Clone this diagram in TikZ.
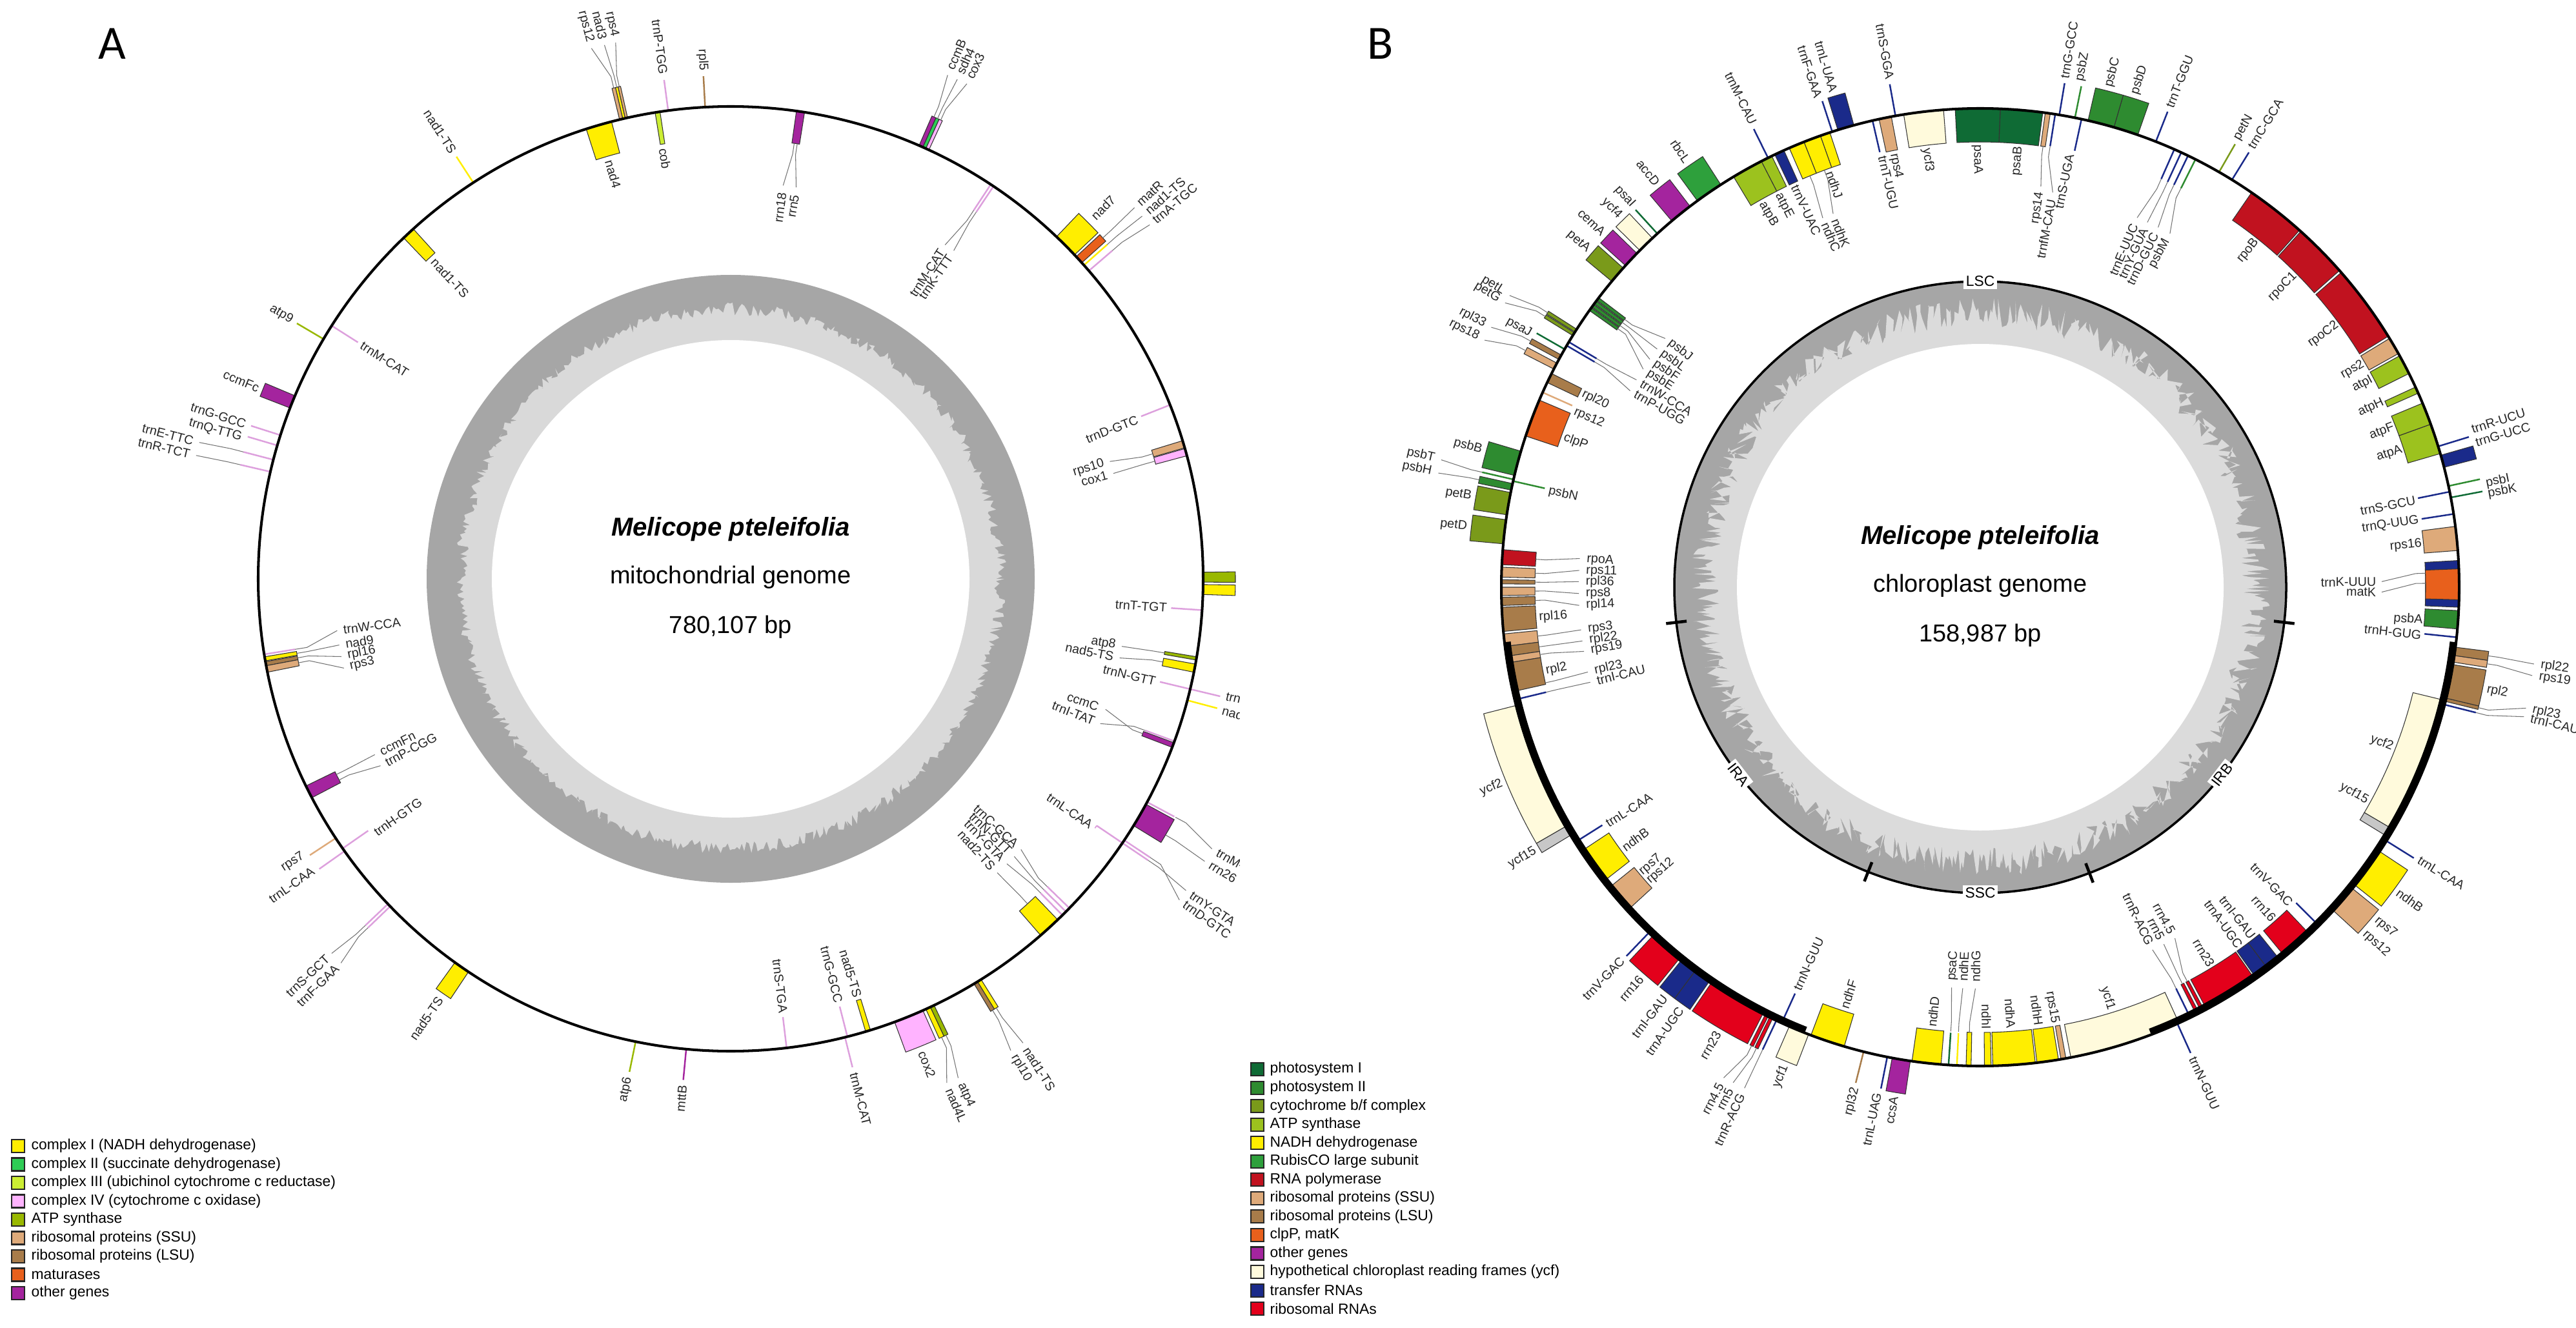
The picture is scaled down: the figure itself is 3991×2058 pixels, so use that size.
\documentclass[tikz,border=0pt]{standalone}
\usepackage{fontspec}
\setmainfont{Liberation Sans}
\newfontfamily\carl{Carlito}
\definecolor{kc1}{HTML}{FFEE00}
\definecolor{kc2}{HTML}{2ECC55}
\definecolor{kc3}{HTML}{CCEE33}
\definecolor{kc4}{HTML}{FFB3FF}
\definecolor{kmatp}{HTML}{99B800}
\definecolor{kssu}{HTML}{DEAA7A}
\definecolor{klsu}{HTML}{A87C4A}
\definecolor{kmat}{HTML}{E8601C}
\definecolor{koth}{HTML}{A4249E}
\definecolor{kmtrn}{HTML}{DDA0DD}
\definecolor{kpsI}{HTML}{0F6B35}
\definecolor{kpsII}{HTML}{2E8B30}
\definecolor{kcytb}{HTML}{7A9A1A}
\definecolor{katp}{HTML}{9CC21E}
\definecolor{kndh}{HTML}{FFEE00}
\definecolor{krbc}{HTML}{2EA03C}
\definecolor{krpo}{HTML}{C1121F}
\definecolor{kclp}{HTML}{E8601C}
\definecolor{kycf}{HTML}{FFFADC}
\definecolor{ktrna}{HTML}{1A2A8A}
\definecolor{krrna}{HTML}{E3001B}
\definecolor{ringdark}{HTML}{A6A6A6}
\definecolor{ringlight}{HTML}{D9D9D9}
\def\gR{732}\def\gH{50}
\newcount\glc
\newcommand{\gbox}[4]{%
  \filldraw[fill=#4, draw=black!80, line width=0.3pt]
    (#1:\gR) arc[start angle=#1, end angle=#2, radius=\gR]
    -- (#2:{\gR+(#3)*\gH}) arc[start angle=#2, end angle=#1, radius={\gR+(#3)*\gH}] -- cycle;}
\newcommand{\gline}[4]{\draw[#3, line width=0.7pt] (#1:\gR) -- (#1:{\gR+(#2)*(#4)});}
\newcommand{\glead}[5]{\draw[ldr] (#1:#3) -- (#1:#4) -- (#2:#5);}
\newcommand{\glab}[3]{%
  \pgfmathsetmacro\tha{mod(#1+720,360)}%
  \pgfmathtruncatemacro\isl{(\tha>90)&&(\tha<270)}%
  \pgfmathtruncatemacro\iso{(#2)>\gR}%
  \ifnum\isl=1
    \pgfmathsetmacro\rot{\tha-180}%
    \ifnum\iso=1 \def\anc{east}\else\def\anc{west}\fi
  \else
    \pgfmathsetmacro\rot{\tha}%
    \ifnum\iso=1 \def\anc{west}\else\def\anc{east}\fi
  \fi
  \global\advance\glc by 1
  \node[glab, rotate=\rot, anchor=\anc] (gl\the\glc) at (#1:#2) {#3};}
\begin{document}
\begin{tikzpicture}[x=0.01cm, y=-0.01cm,
  glab/.style={font=\fontsize{5.6}{6.4}\selectfont, text=black!85, inner sep=0.6pt},
  ldr/.style={draw=black!55, line width=0.3pt},
  lgbox/.style={draw=black!85, line width=0.6pt, minimum width=0.2cm, minimum height=0.2cm, inner sep=0pt},
  lgtext/.style={font=\fontsize{6.5}{7.5}\selectfont, anchor=west, inner sep=0pt},
  title/.style={font=\bfseries\itshape\fontsize{11.4}{13}\selectfont},
  sub/.style={font=\fontsize{10.8}{12}\selectfont},
  reg/.style={fill=white, inner sep=1pt, font=\fontsize{6.5}{7}\selectfont}]
\useasboundingbox (0,0) rectangle (3991,2058);
\pgfmathsetseed{7}
\node[font=\carl\fontsize{21}{21}\selectfont] (labA) at (174,68) {A};
\node[font=\carl\fontsize{21}{21}\selectfont] (labB) at (2139,68) {B};

% ================= PANEL A =================
\begin{scope}
\clip (0,0) rectangle (1920,2058);
\begin{scope}[shift={(1132,897)}, y=0.01cm]
\def\gR{732}\def\gH{50}
\fill[ringdark] (0,0) circle[radius=471];
\fill[ringlight] plot[samples=720, domain=0:360, variable=\t] (\t:{408+20*rnd}) -- cycle;
\fill[white] (0,0) circle[radius=370];
% outside genes
\gbox{102.6}{102.9}{1}{kssu}\gbox{102.9}{103.2}{1}{kc1}\gbox{103.2}{103.6}{1}{kssu}
\glead{102.75}{102.1}{782}{800}{850}\glab{102.1}{857}{rps4}
\glead{103.05}{103.3}{782}{800}{850}\glab{103.3}{857}{nad3}
\glead{103.4}{104.7}{782}{800}{850}\glab{104.7}{857}{rps12}
\gline{123.0}{1}{kc1}{48}\glab{123.0}{786}{nad1-TS}
\gline{149.5}{1}{kmatp}{48}\glab{149.5}{786}{atp9}
\gbox{157.2}{158.8}{1}{koth}\glab{158.0}{786}{ccmFc}
\gline{162.3}{1}{kmtrn}{48}\glab{162.3}{786}{trnG-GCC}
\gline{163.6}{1}{kmtrn}{48}\glab{163.9}{786}{trnQ-TTG}
\gline{165.4}{1}{kmtrn}{48}\glead{165.4}{165.6}{780}{800}{850}\glab{165.6}{857}{trnE-TTC}
\gline{166.9}{1}{kmtrn}{48}\glead{166.9}{167.0}{780}{800}{850}\glab{167.0}{857}{trnR-TCT}
\gline{213.3}{1}{kssu}{48}\glab{212.9}{786}{rps7}
\gline{215.2}{1}{kmtrn}{48}\glab{214.9}{786}{trnL-CAA}
\gline{223.5}{1}{kmtrn}{48}\gline{223.9}{1}{kmtrn}{48}
\glead{223.5}{223.2}{780}{800}{848}\glab{223.2}{854}{trnS-GCT}
\glead{223.9}{224.6}{780}{800}{848}\glab{224.6}{854}{trnF-GAA}
\gbox{234.3}{236.3}{1}{kc1}\glab{235.3}{788}{nad5-TS}
\gline{258.4}{1}{kmatp}{48}\glab{258.4}{786}{atp6}
\gline{264.6}{1}{koth}{48}\glab{264.6}{786}{mttB}
\gline{284.0}{1}{kmtrn}{48}\glab{284.0}{786}{trnM-CAT}
\gbox{290.3}{294.0}{1}{kc4}\glab{292.0}{788}{cox2}
\gbox{294.4}{295.0}{1}{kc1}\gbox{295.0}{295.5}{1}{kmatp}
\glead{294.7}{293.2}{782}{800}{850}\glab{293.2}{857}{nad4L}
\glead{295.25}{294.5}{782}{800}{850}\glab{294.5}{857}{atp4}
\gbox{301.0}{301.5}{1}{klsu}\gbox{301.5}{302.0}{1}{kc1}
\glead{301.25}{300.7}{782}{800}{850}\glab{300.7}{857}{rpl10}
\glead{301.75}{302.2}{782}{800}{850}\glab{302.2}{857}{nad1-TS}
\gline{326.0}{1}{kmtrn}{48}\gline{326.4}{1}{kmtrn}{48}
\glead{326.0}{325.6}{780}{800}{855}\glab{325.6}{862}{trnY-GTA}
\glead{326.4}{324.4}{780}{800}{855}\glab{324.4}{862}{trnD-GTC}
\gbox{328.5}{331.5}{1}{koth}\gline{331.8}{1}{kmtrn}{48}
\glead{331.8}{330.7}{782}{800}{855}\glab{330.7}{862}{trnM-CAT}
\glead{329.5}{329.2}{782}{800}{855}\glab{329.2}{862}{rrn26}
\gline{346.5}{1}{kmtrn}{48}\glab{346.7}{786}{trnI-CAT}
\gline{345.1}{1}{kc1}{48}\glab{345.0}{786}{nad1-TS}
\gbox{359.6}{360.8}{1}{kmatp}\glab{0.2}{786}{atp1}
\gbox{358.1}{359.3}{1}{kc1}\glab{358.7}{786}{nad6}
\gbox{43.3}{46.4}{1}{kc1}\glab{44.9}{790}{nad7}
\gbox{42.0}{43.0}{1}{kmat}
\gline{41.6}{1}{kc1}{48}\gline{40.7}{1}{kmtrn}{48}
\glead{42.5}{42.6}{782}{800}{850}\glab{42.6}{856}{matR}
\glead{41.6}{41.4}{780}{800}{850}\glab{41.4}{857}{nad1-TS}
\glead{40.7}{40.2}{780}{800}{850}\glab{40.2}{856}{trnA-TGC}
\gbox{66.0}{66.5}{1}{koth}\gbox{65.6}{66.0}{1}{kc2}\gbox{65.2}{65.6}{1}{kc4}
\glead{66.25}{66.7}{782}{800}{850}\glab{66.7}{857}{ccmB}
\glead{65.8}{65.6}{782}{800}{850}\glab{65.6}{857}{sdh4}
\glead{65.4}{64.5}{782}{800}{850}\glab{64.5}{857}{cox3}
\gline{93.1}{1}{klsu}{48}\glab{93.1}{786}{rpl5}
\gline{97.6}{1}{kmtrn}{48}\glab{97.6}{786}{trnP-TGG}
% inside genes
\gbox{104.6}{107.8}{-1}{kc1}\glab{106.2}{678}{nad4}
\gbox{98.6}{99.2}{-1}{kc3}\glab{98.9}{678}{cob}
\gbox{132.2}{133.8}{-1}{kc1}\glab{133.0}{678}{nad1-TS}
\gline{147.6}{-1}{kmtrn}{48}\glab{147.6}{680}{trnM-CAT}
\gline{189.2}{-1}{kmtrn}{48}\gbox{189.5}{190.0}{-1}{kc1}\gbox{190.1}{190.6}{-1}{klsu}\gbox{190.6}{191.4}{-1}{kssu}
\glead{189.2}{187.5}{684}{665}{615}\glab{187.5}{608}{trnW-CCA}
\glead{189.75}{189.6}{682}{665}{615}\glab{189.6}{608}{nad9}
\glead{190.35}{191.3}{682}{665}{615}\glab{191.3}{608}{rpl16}
\glead{191.0}{193.0}{682}{665}{615}\glab{193.0}{608}{rps3}
\gbox{206.0}{207.6}{-1}{koth}
\glead{206.4}{206.3}{682}{665}{615}\glab{206.3}{608}{ccmFn}
\glead{207.2}{208.1}{682}{665}{615}\glab{208.1}{608}{trnP-CGG}
\gline{214.8}{-1}{kmtrn}{48}\glab{215.6}{680}{trnH-GTG}
\gline{276.8}{-1}{kmtrn}{48}\glab{276.9}{680}{trnS-TGA}
\gline{284.3}{-1}{kmtrn}{48}\glab{284.3}{680}{trnG-GCC}
\gbox{286.6}{287.2}{-1}{kc1}\glab{286.9}{680}{nad5-TS}
\gbox{311.0}{313.8}{-1}{kc1}\gline{314.6}{-1}{kmtrn}{48}\gline{315.2}{-1}{kmtrn}{48}\gline{315.8}{-1}{kmtrn}{48}
\glead{312.4}{312.2}{682}{665}{615}\glab{312.2}{608}{nad2-TS}
\glead{314.6}{314.1}{684}{665}{615}\glab{314.1}{608}{trnY-GTA}
\glead{315.2}{315.6}{684}{665}{615}\glab{315.6}{608}{trnN-GTT}
\glead{315.8}{317.0}{684}{665}{615}\glab{317.0}{608}{trnC-GCA}
\draw[kmtrn, line width=0.7pt] (326.0:732) -- (326.0:684);\draw[kmtrn, line width=0.5pt] (326.0:684) -- (325.6:684);
\glab{325.6}{680}{trnL-CAA}
\gbox{339.1}{339.7}{-1}{koth}\gline{339.9}{-1}{kmtrn}{48}
\glead{339.4}{340.8}{682}{665}{615}\glab{340.8}{606}{ccmC}
\glead{339.9}{338.6}{684}{665}{615}\glab{338.6}{608}{trnI-TAT}
\gline{346.5}{-1}{kmtrn}{48}\glab{346.4}{680}{trnN-GTT}
\gbox{350.1}{350.5}{-1}{kmatp}\gbox{348.6}{349.6}{-1}{kc1}
\glead{350.3}{350.2}{682}{665}{615}\glab{350.2}{608}{atp8}
\glead{349.1}{348.5}{682}{665}{615}\glab{348.5}{608}{nad5-TS}
\gline{356.2}{-1}{kmtrn}{48}\glab{356.2}{680}{trnT-TGT}
\gbox{16.1}{17.0}{-1}{kssu}\gbox{15.1}{16.0}{-1}{kc4}
\glead{16.5}{17.2}{682}{665}{615}\glab{17.2}{608}{rps10}
\glead{15.5}{15.4}{682}{665}{615}\glab{15.4}{608}{cox1}
\gline{21.6}{-1}{kmtrn}{48}\glab{21.4}{680}{trnD-GTC}
\gline{56.2}{-1}{kmtrn}{48}\gline{56.6}{-1}{kmtrn}{48}
\glead{56.6}{57.3}{684}{665}{615}\glab{57.3}{608}{trnM-CAT}
\glead{56.2}{55.8}{684}{665}{615}\glab{55.8}{608}{trnK-TTT}
\gbox{81.0}{82.0}{-1}{koth}
\glead{81.7}{82.4}{682}{665}{615}\glab{82.4}{606}{rrn18}
\glead{81.3}{80.5}{682}{665}{615}\glab{80.5}{606}{rrn5}
\draw[line width=1.15pt] (0,0) circle[radius=732];
\end{scope}
\end{scope}
\node[title] (tA1) at (1132,820) {Melicope pteleifolia};
\node[sub] (tA2) at (1132,895) {mitochondrial genome};
\node[sub] (tA3) at (1132,972) {780,107 bp};

% ================= PANEL B =================
\begin{scope}[shift={(3068,910)}, y=0.01cm]
\def\gR{742}\def\gH{52}
\fill[ringdark] (0,0) circle[radius=474];
\fill[ringlight!95!white] plot[samples=1000, domain=0:360, variable=\t] (\t:{404+46*rnd}) -- cycle;
\fill[white] (0,0) circle[radius=377];
\draw[line width=1pt] (0,0) circle[radius=474];
\foreach \a in {186.6,248.5,290.9,353.4} \draw[line width=1.3pt] (\a:458) -- (\a:490);
\node[reg] (rLSC) at (90:474) {LSC};
\node[reg] (rSSC) at (270:474) {SSC};
\node[reg, rotate=-52.2] (rIRA) at (217.8:474) {IRA};
\node[reg, rotate=52.2] (rIRB) at (322.2:474) {IRB};
% outside genes
\gline{100.2}{1}{ktrna}{50}\glab{100.1}{797}{trnS-GGA}
\gbox{105.3}{107.3}{1}{ktrna}\glab{106.5}{798}{trnL-UAA}
\gline{108.0}{1}{ktrna}{50}\glab{108.3}{797}{trnF-GAA}
\gline{116.3}{1}{ktrna}{50}\glab{116.1}{797}{trnM-CAU}
\gbox{122.8}{126.2}{1}{krbc}\glab{124.5}{798}{rbcL}
\gbox{127.3}{130.1}{1}{koth}\glab{128.7}{798}{accD}
\gline{132.4}{1}{kpsI}{50}\glab{132.3}{797}{psaI}
\gbox{133.2}{135.3}{1}{kycf}\glab{134.2}{798}{ycf4}
\gbox{135.8}{137.8}{1}{koth}\glab{136.8}{798}{cemA}
\gbox{138.2}{140.3}{1}{kcytb}\glab{139.3}{798}{petA}
\gbox{147.4}{147.8}{1}{kcytb}\gbox{147.9}{148.3}{1}{kcytb}
\glead{147.6}{148.2}{794}{810}{858}\glab{148.2}{866}{petL}
\glead{148.1}{149.1}{794}{810}{858}\glab{149.1}{866}{petG}
\gline{150.2}{1}{kpsI}{50}\glab{150.6}{797}{psaJ}
\gbox{151.0}{151.6}{1}{klsu}\gbox{152.1}{152.9}{1}{kssu}
\glead{151.3}{152.0}{794}{810}{858}\glab{152.0}{866}{rpl33}
\glead{152.5}{153.5}{794}{810}{858}\glab{153.5}{866}{rps18}
\gbox{163.5}{166.5}{1}{kpsII}\glab{164.6}{798}{psbB}
\gline{167.0}{1}{kpsII}{50}\gbox{167.5}{168.3}{1}{kpsII}
\glead{167.0}{166.7}{792}{810}{858}\glab{166.7}{866}{psbT}
\glead{167.9}{168.1}{794}{810}{858}\glab{168.1}{866}{psbH}
\gbox{168.6}{171.3}{1}{kcytb}\glab{169.9}{798}{petB}
\gbox{171.9}{174.8}{1}{kcytb}\glab{173.3}{798}{petD}
\gbox{194.3}{210.0}{1}{kycf}\glab{202.3}{798}{ycf2}
\gbox{210.0}{211.2}{1}{black!22}\glab{210.6}{798}{ycf15}
\gline{226.2}{1}{ktrna}{50}\glab{226.1}{797}{trnV-GAC}
\gbox{226.8}{231.0}{1}{krrna}\glab{229.0}{798}{rrn16}
\gbox{231.3}{233.4}{1}{ktrna}\gbox{233.4}{235.5}{1}{ktrna}
\glab{232.4}{798}{trnI-GAU}\glab{234.6}{798}{trnA-UGC}
\gbox{235.8}{243.0}{1}{krrna}\glab{239.5}{798}{rrn23}
\gbox{243.3}{243.7}{1}{krrna}\gbox{243.9}{244.3}{1}{krrna}\gline{244.8}{1}{ktrna}{50}
\glead{243.5}{242.4}{794}{810}{858}\glab{242.4}{866}{rrn4.5}
\glead{244.1}{243.5}{794}{810}{858}\glab{243.5}{866}{rrn5}
\glead{244.8}{244.8}{792}{810}{858}\glab{244.8}{866}{trnR-ACG}
\gbox{246.5}{249.0}{1}{kycf}\glab{247.8}{798}{ycf1}
\gline{255.9}{1}{klsu}{50}\glab{256.0}{797}{rpl32}
\gline{258.8}{1}{ktrna}{50}\glab{258.5}{797}{trnL-UAG}
\gbox{259.4}{261.6}{1}{koth}\glab{260.4}{798}{ccsA}
\gline{294.3}{1}{ktrna}{50}\glab{294.3}{797}{trnN-GUU}
\gbox{317.5}{321.0}{1}{kssu}\glab{320.0}{798}{rps7}\glab{318.0}{798}{rps12}
\gbox{321.5}{326.5}{1}{kndh}\glab{323.9}{798}{ndhB}
\gline{328.0}{1}{ktrna}{50}\glab{328.2}{797}{trnL-CAA}
\gline{345.8}{1}{ktrna}{50}\gbox{346.2}{346.6}{1}{klsu}\gbox{346.6}{350.7}{1}{klsu}\glab{348.6}{798}{rpl2}
\glead{346.4}{347.5}{794}{810}{866}\glab{347.5}{874}{rpl23}
\glead{345.8}{346.6}{792}{810}{866}\glab{346.6}{874}{trnI-CAU}
\gbox{351.0}{351.8}{1}{kssu}\gbox{351.8}{352.8}{1}{klsu}
\glead{351.4}{350.9}{794}{810}{866}\glab{350.9}{874}{rps19}
\glead{352.3}{352.1}{794}{810}{866}\glab{352.1}{874}{rpl22}
\gline{12.2}{1}{kpsII}{50}\gline{10.8}{1}{kpsI}{50}
\glab{11.6}{797}{psbI}\glab{10.4}{797}{psbK}
\gbox{14.5}{16.0}{1}{ktrna}\glab{16.3}{797}{trnG-UCC}
\gline{17.1}{1}{ktrna}{50}\glab{17.8}{797}{trnR-UCU}
\gline{58.3}{1}{ktrna}{50}\glab{58.4}{797}{trnC-GCA}
\gline{60.1}{1}{kcytb}{50}\glab{60.2}{797}{petN}
\gline{68.5}{1}{ktrna}{50}\glab{68.5}{797}{trnT-GGU}
\gbox{70.8}{73.8}{1}{kpsII}\gbox{73.8}{77.0}{1}{kpsII}\glab{72.6}{798}{psbD}\glab{75.6}{798}{psbC}
\gline{78.6}{1}{kpsII}{50}\glab{78.9}{797}{psbZ}
\gline{80.5}{1}{ktrna}{50}\glab{80.6}{797}{trnG-GCC}
% inside genes
\gbox{94.4}{99.2}{-1}{kycf}\glab{97.0}{688}{ycf3}
\gbox{100.7}{102.2}{-1}{kssu}\glab{101.3}{688}{rps4}
\gline{103.0}{-1}{ktrna}{50}\glab{102.8}{688}{trnT-UGU}
\gbox{108.3}{109.5}{-1}{kndh}\gbox{109.5}{111.6}{-1}{kndh}\gbox{111.6}{113.5}{-1}{kndh}
\glab{109.9}{688}{ndhJ}
\glead{110.5}{111.5}{690}{675}{622}\glab{111.5}{616}{ndhK}
\glead{112.5}{113.1}{690}{675}{622}\glab{113.1}{616}{ndhC}
\gbox{114.2}{115.4}{-1}{ktrna}\glab{114.8}{688}{trnV-UAC}
\gbox{115.8}{117.2}{-1}{katp}\gbox{117.2}{121.0}{-1}{katp}
\glab{117.2}{688}{atpE}\glab{119.6}{688}{atpB}
\gbox{142.8}{143.2}{-1}{kpsII}\gbox{143.3}{143.7}{-1}{kpsII}\gbox{143.8}{144.2}{-1}{kpsII}\gbox{144.3}{144.7}{-1}{kpsII}
\glead{143.0}{141.7}{690}{675}{622}\glab{141.7}{616}{psbJ}
\glead{143.5}{143.6}{690}{675}{622}\glab{143.6}{616}{psbL}
\glead{144.0}{145.4}{690}{675}{622}\glab{145.4}{616}{psbF}
\glead{144.5}{147.1}{690}{675}{622}\glab{147.1}{616}{psbE}
\gline{149.2}{-1}{ktrna}{50}\gline{149.7}{-1}{ktrna}{50}
\glead{149.2}{148.9}{692}{675}{622}\glab{148.9}{616}{trnW-CCA}
\glead{149.7}{150.7}{692}{675}{622}\glab{150.7}{616}{trnP-UGG}
\gbox{153.5}{154.7}{-1}{klsu}\glab{154.0}{688}{rpl20}
\gline{156.0}{-1}{kssu}{50}\glab{156.6}{688}{rps12}
\gbox{157.0}{161.6}{-1}{kclp}\glab{160.2}{688}{clpP}
\gline{167.2}{-1}{kpsII}{50}\glab{167.4}{688}{psbN}
\gbox{175.5}{177.3}{-1}{krpo}
\gbox{177.6}{178.8}{-1}{kssu}
\gbox{179.1}{179.6}{-1}{klsu}
\gbox{180.0}{181.0}{-1}{kssu}
\gbox{181.2}{182.2}{-1}{klsu}
\gbox{182.4}{185.3}{-1}{klsu}
\gbox{185.6}{187.1}{-1}{kssu}
\gbox{187.1}{188.3}{-1}{klsu}
\gbox{188.3}{189.1}{-1}{kssu}
\gbox{189.1}{192.6}{-1}{klsu}
\gline{193.6}{-1}{ktrna}{50}
\glead{176.4}{175.9}{690}{675}{622}\glab{175.9}{614}{rpoA}
\glead{178.2}{177.6}{690}{675}{622}\glab{177.6}{614}{rps11}
\glead{179.35}{179.2}{690}{675}{622}\glab{179.2}{614}{rpl36}
\glead{180.5}{180.9}{690}{675}{622}\glab{180.9}{614}{rps8}
\glead{181.7}{182.6}{690}{675}{622}\glab{182.6}{614}{rpl14}
\glab{183.9}{688}{rpl16}
\glead{186.3}{186.1}{690}{675}{622}\glab{186.1}{614}{rps3}
\glead{187.7}{187.7}{690}{675}{622}\glab{187.7}{614}{rpl22}
\glead{188.7}{189.2}{690}{675}{622}\glab{189.2}{614}{rps19}
\glab{190.9}{688}{rpl2}
\glead{192.4}{192.2}{690}{675}{622}\glab{192.2}{614}{rpl23}
\glead{193.6}{193.7}{692}{675}{622}\glab{193.7}{614}{trnI-CAU}
\gline{212.2}{-1}{ktrna}{50}\glab{212.4}{688}{trnL-CAA}
\gbox{213.5}{218.0}{-1}{kndh}\glab{216.2}{688}{ndhB}
\gbox{219.0}{222.5}{-1}{kssu}\glab{220.1}{690}{rps7}\glab{221.6}{690}{rps12}
\gline{245.5}{-1}{ktrna}{50}\glab{245.5}{688}{trnN-GUU}
\gbox{249.3}{253.5}{-1}{kndh}\glab{252.1}{688}{ndhF}
\gbox{261.8}{265.3}{-1}{kndh}\glab{263.7}{688}{ndhD}
\gline{266.2}{-1}{kpsI}{50}\gline{267.2}{-1}{kndh}{50}\gbox{268.3}{268.9}{-1}{kndh}
\glead{266.2}{265.9}{690}{675}{622}\glab{265.9}{614}{psaC}
\glead{267.2}{267.5}{690}{675}{622}\glab{267.5}{614}{ndhE}
\glead{268.6}{269.3}{690}{675}{622}\glab{269.3}{614}{ndhG}
\gbox{270.5}{271.3}{-1}{kndh}\glab{270.8}{688}{ndhI}
\gbox{271.5}{276.6}{-1}{kndh}\glab{274.0}{688}{ndhA}
\gbox{276.8}{279.4}{-1}{kndh}\glab{277.6}{688}{ndhH}
\gbox{279.7}{280.3}{-1}{kssu}\glab{279.7}{688}{rps15}
\gbox{280.9}{294.5}{-1}{kycf}\glab{287.2}{688}{ycf1}
\gline{296.0}{-1}{ktrna}{50}\gbox{296.8}{297.2}{-1}{krrna}\gbox{297.5}{297.9}{-1}{krrna}
\glead{296.0}{295.4}{692}{675}{622}\glab{295.4}{616}{trnR-ACG}
\glead{297.0}{297.2}{690}{675}{622}\glab{297.2}{616}{rrn5}
\glead{297.7}{299.0}{690}{675}{622}\glab{299.0}{616}{rrn4.5}
\gbox{298.2}{305.0}{-1}{krrna}\glab{301.4}{690}{rrn23}
\gbox{305.2}{307.0}{-1}{ktrna}\gbox{307.0}{308.8}{-1}{ktrna}\glab{305.8}{690}{trnA-UGC}\glab{307.9}{690}{trnI-GAU}
\gbox{309.5}{313.5}{-1}{krrna}\glab{311.4}{690}{rrn16}
\gline{315.0}{-1}{ktrna}{50}\glab{314.4}{690}{trnV-GAC}
\gbox{328.5}{329.6}{-1}{black!22}\glab{331.1}{688}{ycf15}
\gbox{329.6}{346.3}{-1}{kycf}\glab{338.8}{688}{ycf2}
\gline{354.0}{-1}{ktrna}{50}\glab{353.8}{690}{trnH-GUG}
\gbox{355.0}{357.2}{-1}{kpsII}\glab{355.7}{690}{psbA}
\gbox{357.6}{363.2}{-1}{ktrna}\gbox{358.5}{362.2}{-1}{kclp}
\glead{1.8}{0.8}{690}{675}{622}\glab{0.8}{616}{trnK-UUU}
\glead{360.5}{359.3}{690}{675}{622}\glab{359.3}{616}{matK}
\gbox{4.4}{7.3}{-1}{kssu}\glab{5.6}{690}{rps16}
\gline{8.8}{-1}{ktrna}{50}\glab{8.7}{690}{trnQ-UUG}
\gline{11.5}{-1}{ktrna}{50}\glab{11.3}{690}{trnS-GCU}
\gbox{16.2}{19.9}{-1}{katp}\glab{18.1}{690}{atpA}
\gbox{19.9}{22.6}{-1}{katp}\glab{21.2}{690}{atpF}
\gbox{23.9}{24.7}{-1}{katp}\glab{24.7}{690}{atpH}
\gbox{26.5}{28.9}{-1}{katp}\glab{28.0}{690}{atpI}
\gbox{29.2}{31.3}{-1}{kssu}\glab{30.3}{690}{rps2}
\gbox{31.6}{41.1}{-1}{krpo}\glab{36.4}{690}{rpoC2}
\gbox{41.4}{48.0}{-1}{krpo}\glab{44.8}{690}{rpoC1}
\gbox{48.2}{55.5}{-1}{krpo}\glab{51.5}{690}{rpoB}
\gline{63.3}{-1}{kpsII}{50}\gline{64.3}{-1}{ktrna}{50}\gline{65.2}{-1}{ktrna}{50}\gline{66.1}{-1}{ktrna}{50}
\glead{63.3}{61.8}{692}{675}{622}\glab{61.8}{614}{psbM}
\glead{64.3}{63.7}{692}{675}{622}\glab{63.7}{614}{trnD-GUC}
\glead{65.2}{65.4}{692}{675}{622}\glab{65.4}{614}{trnY-GUA}
\glead{66.1}{67.0}{692}{675}{622}\glab{67.0}{614}{trnE-UUC}
\gline{77.8}{-1}{ktrna}{50}\glab{78.3}{688}{trnS-UGA}
\gline{81.0}{-1}{ktrna}{50}\gbox{81.6}{82.2}{-1}{kssu}
\glead{81.0}{79.6}{692}{675}{622}\glab{79.6}{614}{trnfM-CAU}
\glead{81.9}{81.4}{690}{675}{628}\glab{81.4}{622}{rps14}
\gbox{82.5}{87.6}{-1}{kpsI}\gbox{87.6}{93.0}{-1}{kpsI}
\glab{85.0}{688}{psaB}\glab{90.4}{688}{psaA}
\draw[line width=1.15pt] (0,0) circle[radius=742];
\draw[line width=3.2pt] (186.6:738) arc[start angle=186.6, end angle=248.5, radius=738];
\draw[line width=3.2pt] (290.9:738) arc[start angle=290.9, end angle=353.4, radius=738];
\end{scope}
\node[title] (tB1) at (3068,833) {Melicope pteleifolia};
\node[sub] (tB2) at (3068,908) {chloroplast genome};
\node[sub] (tB3) at (3068,985) {158,987 bp};

% ================= LEGENDS =================
\foreach \c/\t [count=\i from 0] in {kc1/complex I (NADH dehydrogenase), kc2/complex II (succinate dehydrogenase), kc3/complex III (ubichinol cytochrome c reductase), kc4/complex IV (cytochrome c oxidase), kmatp/ATP synthase, kssu/ribosomal proteins (SSU), klsu/ribosomal proteins (LSU), kmat/maturases, koth/other genes}{
  \node[lgbox, fill=\c] (lga\i) at (28,{1776+28.5*\i}) {};
  \node[lgtext] (lta\i) at (48,{1776+28.5*\i}) {\t};
}
\foreach \c/\t [count=\i from 0] in {kpsI/photosystem I, kpsII/photosystem II, kcytb/cytochrome b\slash f complex, katp/ATP synthase, kndh/NADH dehydrogenase, krbc/RubisCO large subunit, krpo/RNA polymerase, kssu/ribosomal proteins (SSU), klsu/ribosomal proteins (LSU), kclp/{clpP, matK}, koth/other genes, kycf/hypothetical chloroplast reading frames (ycf), ktrna/transfer RNAs, krrna/ribosomal RNAs}{
  \node[lgbox, fill=\c] (lgb\i) at (1948,{1657+28.55*\i}) {};
  \node[lgtext] (ltb\i) at (1967,{1657+28.55*\i}) {\t};
}
\end{tikzpicture}
\end{document}
